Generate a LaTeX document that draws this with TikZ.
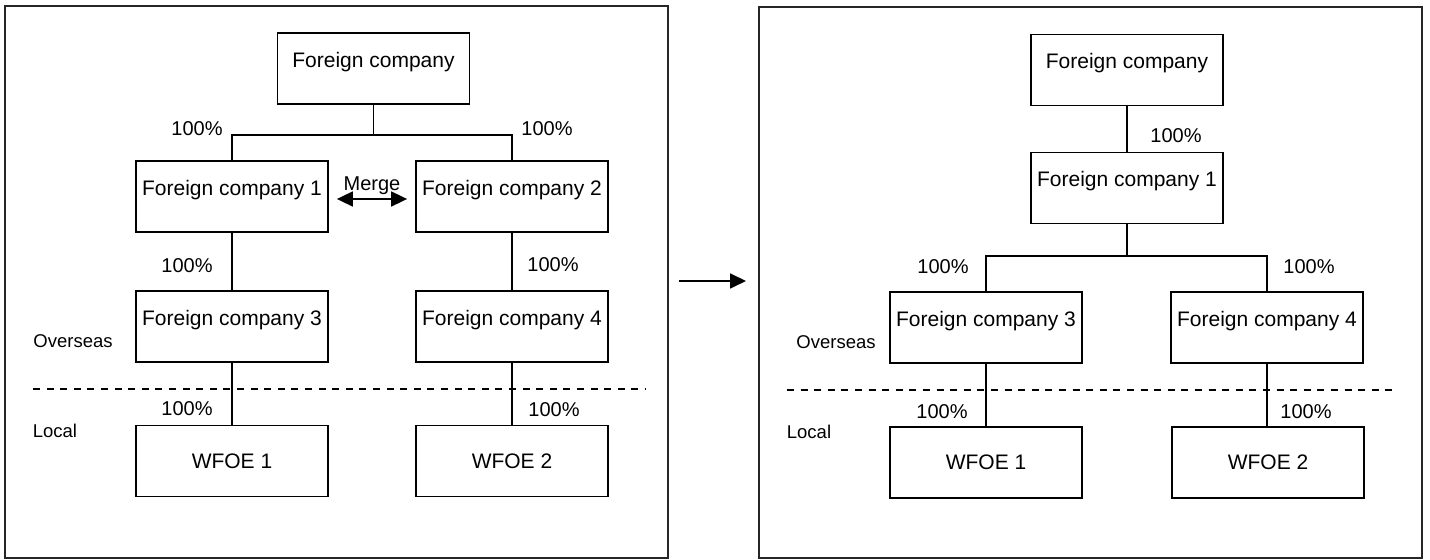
\documentclass[tikz,border=0pt]{standalone}
\usepackage{fontspec}
\setmainfont{Liberation Sans}
\usetikzlibrary{arrows.meta}

\tikzset{
  cobox/.style={draw, line width=0.9pt, minimum width=96pt, inner xsep=0pt, inner ysep=0pt,
    text height=17.25pt, text depth=18.25pt, font=\fontsize{10.5}{12}\selectfont},
  wfoebox/.style={draw, line width=0.9pt, minimum width=96pt, minimum height=35.5pt,
    font=\fontsize{10.5}{12}\selectfont},
  pct/.style={inner sep=0pt, font=\fontsize{10}{12}\selectfont},
  side/.style={inner sep=0pt, font=\fontsize{9.25}{11}\selectfont},
  link/.style={line width=0.9pt},
  border/.style={line width=1.2pt, draw=black!85},
  divide/.style={line width=0.8pt, dash pattern=on 3.5pt off 3.3pt}
}

\begin{document}
\begin{tikzpicture}[x=0.5pt, y=-0.5pt]
  \useasboundingbox (0,0) rectangle (1430,560);

  % before
  \draw[border] (5,6) rectangle (668,558);

  \node[cobox] (lfc)  at (373.5,68.5) {Foreign company};
  \node[cobox] (lfc1) at (232,196.5) {Foreign company 1};
  \node[cobox] (lfc2) at (512,196.5) {Foreign company 2};
  \node[cobox] (lfc3) at (232,326.5) {Foreign company 3};
  \node[cobox] (lfc4) at (512,326.5) {Foreign company 4};
  \node[wfoebox] (lw1) at (232,461) {WFOE 1};
  \node[wfoebox] (lw2) at (512,461) {WFOE 2};

  \draw[link] (lfc.south) -- ++(0,30) coordinate (lsplit);
  \draw[link] (lfc1.north) |- (lsplit) -| (lfc2.north);
  \draw[link] (lfc1.south) -- (lfc3.north);
  \draw[link] (lfc2.south) -- (lfc4.north);
  \draw[link] (lfc3.south) -- (lw1.north);
  \draw[link] (lfc4.south) -- (lw2.north);

  \draw[link, {Triangle[length=8pt,width=7.5pt]}-{Triangle[length=8pt,width=7.5pt]},
    shorten <=4pt, shorten >=4pt]
    ([yshift=-1.25pt]lfc1.east) -- node[pct, above=1.5pt] (lmerge) {Merge} ([yshift=-1.25pt]lfc2.west);

  \node[pct] (lp1) at (197,129) {100\%};
  \node[pct] (lp2) at (547,129) {100\%};
  \node[pct] (lp3) at (187,266) {100\%};
  \node[pct] (lp4) at (553,265) {100\%};
  \node[pct] (lp5) at (187,409) {100\%};
  \node[pct] (lp6) at (554,410) {100\%};

  \node[side] (lover) at (73,341) {Overseas};
  \node[side] (llocal) at (55,431) {Local};
  \draw[divide] (33,389) -- (646,389);

  % step between the two
  \coordinate (go1) at (679,281);
  \coordinate (go2) at (746,281);
  \draw[link, -{Triangle[length=8pt,width=7.5pt]}] (go1) -- (go2);

  % after
  \draw[border] (759,7) rectangle (1422,558);

  \node[cobox] (rfc)  at (1127,70) {Foreign company};
  \node[cobox] (rfc1) at (1127,188) {Foreign company 1};
  \node[cobox] (rfc3) at (986,327.5) {Foreign company 3};
  \node[cobox] (rfc4) at (1267,327.5) {Foreign company 4};
  \node[wfoebox] (rw1) at (986,462.5) {WFOE 1};
  \node[wfoebox] (rw2) at (1268,462.5) {WFOE 2};

  \draw[link] (rfc.south) -- (rfc1.north);
  \draw[link] (rfc1.south) -- ++(0,32) coordinate (rsplit);
  \draw[link] (rfc3.north) |- (rsplit) -| (rfc4.north);
  \draw[link] (rfc3.south) -- (rw1.north);
  \draw[link] (rfc4.south) -- (rw2.north -| rfc4.south);

  \node[pct] (rp1) at (1176,136) {100\%};
  \node[pct] (rp2) at (943,267) {100\%};
  \node[pct] (rp3) at (1309,267) {100\%};
  \node[pct] (rp4) at (942,412) {100\%};
  \node[pct] (rp5) at (1306,412) {100\%};

  \node[side] (rover) at (836,342) {Overseas};
  \node[side] (rlocal) at (809,432) {Local};
  \draw[divide] (787,390) -- (1397,390);
\end{tikzpicture}
\end{document}
